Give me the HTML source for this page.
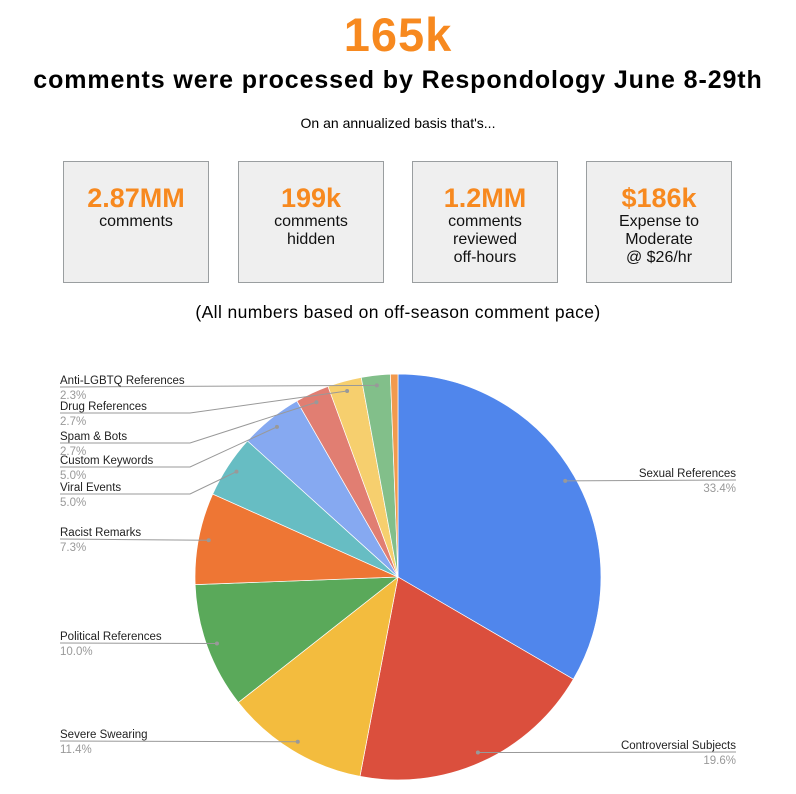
<!DOCTYPE html>
<html><head><meta charset="utf-8"><style>
body{margin:0;width:796px;height:794px;background:#fff;font-family:"Liberation Sans",sans-serif;position:relative;overflow:hidden}
.t{position:absolute;left:0;width:796px;text-align:center;color:#000}
.box{position:absolute;top:161px;width:144px;height:120px;background:#efefef;border:1.5px solid #9a9ea0;text-align:center}
.box .n{color:#f7891f;font-weight:bold;font-size:27px;margin-top:22px;line-height:29px}
.box .d{font-size:16px;line-height:18px;color:#111}
</style></head><body>
<div class="t" style="top:7px;font-size:47px;font-weight:bold;color:#f7891f;letter-spacing:1px">165k</div>
<div class="t" style="top:66px;font-size:25px;font-weight:bold;letter-spacing:0.9px">comments were processed by Respondology June 8-29th</div>
<div class="t" style="top:115px;font-size:14px">On an annualized basis that's...</div>
<div class="box" style="left:63px"><div class="n">2.87MM</div><div class="d">comments</div></div>
<div class="box" style="left:238px"><div class="n">199k</div><div class="d">comments<br>hidden</div></div>
<div class="box" style="left:412px"><div class="n">1.2MM</div><div class="d">comments<br>reviewed<br>off-hours</div></div>
<div class="box" style="left:586px"><div class="n">$186k</div><div class="d">Expense to<br>Moderate<br>@ $26/hr</div></div>
<div class="t" style="top:302px;font-size:17.5px;letter-spacing:0.4px">(All numbers based on off-season comment pace)</div>
<svg id="pie" width="796" height="794" style="position:absolute;left:0;top:0"></svg>
<script>
const categories=["Sexual References","Controversial Subjects","Severe Swearing","Political References","Racist Remarks","Viral Events","Custom Keywords","Spam & Bots","Drug References","Anti-LGBTQ References","Other"];
const values=[33.4,19.6,11.4,10.0,7.3,5.0,5.0,2.7,2.7,2.3,0.6];
const colors=["#5086ec","#db4f3d","#f3bc3e","#5aa95a","#ee7634","#67bdc3","#86a9f1","#e17e72","#f6cf6e","#82bf8a","#f29a4e"];
// label text positions (layout, not data): [x, y, side]
const labelPos=[[736,473,"r"],[736,745,"r"],[60,734,"l"],[60,636,"l"],[60,532,"l"],[60,487,"l"],[60,460,"l"],[60,436,"l"],[60,406,"l"],[60,380,"l"],null];
const NS="http://www.w3.org/2000/svg",svg=document.getElementById("pie");
const cx=398,cy=577,r=203;
const total=values.reduce((a,b)=>a+b,0);
function pt(a,rr){return [cx+rr*Math.sin(a),cy-rr*Math.cos(a)];}
let acc=0;
values.forEach((v,i)=>{
  const a0=acc/total*2*Math.PI,a1=(acc+v)/total*2*Math.PI;acc+=v;
  const p0=pt(a0,r),p1=pt(a1,r);
  const p=document.createElementNS(NS,"path");
  p.setAttribute("d",`M${cx},${cy}L${p0[0]},${p0[1]}A${r},${r} 0 ${a1-a0>Math.PI?1:0} 1 ${p1[0]},${p1[1]}Z`);
  p.setAttribute("fill",colors[i]);p.setAttribute("stroke","#fff");p.setAttribute("stroke-width","0.7");
  
  
  svg.appendChild(p);
  const L=labelPos[i];if(!L)return;
  const am=(a0+a1)/2,q=pt(am,r*0.95);
  const ly=L[1]+7;
  let pts;
  if(Math.abs(q[1]-ly)<15){pts=`${q[0]},${q[1]} ${L[0]},${ly}`;}
  else if(L[2]=="l"){const ex=Math.min(q[0]-25,190);pts=`${q[0]},${q[1]} ${ex},${ly} 60,${ly}`;}
  else pts=`${q[0]},${q[1]} ${Math.max(q[0]+25,600)},${ly} 736,${ly}`;
  const line=document.createElementNS(NS,"polyline");
  line.setAttribute("points",pts);line.setAttribute("fill","none");line.setAttribute("stroke","#999");line.setAttribute("stroke-width","1");
  
  
  svg.appendChild(line);
  const dot=document.createElementNS(NS,"circle");dot.setAttribute("cx",q[0]);dot.setAttribute("cy",q[1]);dot.setAttribute("r",2);dot.setAttribute("fill","#999");
  
  
  svg.appendChild(dot);
  const anchor=L[2]=="l"?"start":"end";
  const t=document.createElementNS(NS,"text");t.setAttribute("x",L[0]);t.setAttribute("y",L[1]+4);t.setAttribute("font-size","11.5");t.setAttribute("fill","#222");t.setAttribute("text-anchor",anchor);t.textContent=categories[i];
  
  
  svg.appendChild(t);
  const t2=document.createElementNS(NS,"text");t2.setAttribute("x",L[0]);t2.setAttribute("y",L[1]+19);t2.setAttribute("font-size","11.5");t2.setAttribute("fill","#999");t2.setAttribute("text-anchor",anchor);t2.textContent=v.toFixed(1)+"%";
  
  
  svg.appendChild(t2);
});
</script>
</body></html>
